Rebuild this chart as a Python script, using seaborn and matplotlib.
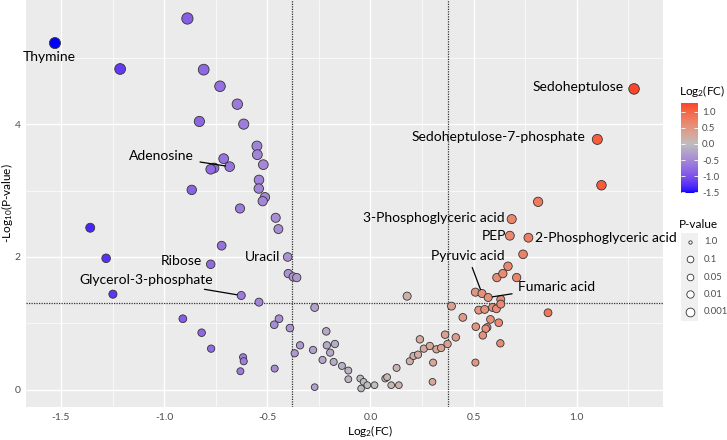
import numpy as np
import pandas as pd
import matplotlib
matplotlib.use("Agg")
import matplotlib.pyplot as plt
import seaborn as sns
from matplotlib.colors import ListedColormap, Normalize, to_rgb

# ---------------- data ----------------
log2fc = [-0.887, -1.529, -1.213, -0.808, -0.729, -0.645, -0.829, -0.614, -0.550, -0.548,
          -0.519, -0.711, -0.682, -0.758, -0.774, -0.540, -0.541, -0.866, -0.511, -0.522,
          -0.632, -0.459, -0.446, -1.358, -0.721, -1.281, -0.774, -0.401, -0.398, -0.374,
          -0.357, -0.626, -1.248, -0.540, -0.270, -0.909, -0.443, -0.466, -0.390, -0.818,
          -0.214, -0.341, -0.211, -0.172, -0.772, -0.278, -0.195, -0.367, -0.617, -0.614,
          -0.232, -0.178, -0.630, -0.464, -0.270, -0.138, -0.107, -0.107, -0.049, -0.033,
          -0.045, -0.015, 0.020, 0.072, 0.081, 0.101, 0.138, 0.127, 0.178, 0.191,
          0.209, 0.231, 0.240, 0.259, 0.288, 0.304, 0.301, 0.320, 0.343, 0.362,
          0.374, 0.393, 0.414, 0.448, 0.509, 0.541, 0.571, 0.525, 0.554, 0.592,
          0.611, 0.632, 0.632, 0.582, 0.511, 0.566, 0.559, 0.622, 0.545, 0.630,
          0.509, 0.613, 0.642, 0.667, 0.709, 0.740, 1.278, 1.100, 1.120, 0.813,
          0.685, 0.676, 0.766, 0.861]
neg_log10_p = [5.59, 5.22, 4.83, 4.82, 4.57, 4.30, 4.04, 4.00, 3.67, 3.54,
               3.39, 3.48, 3.36, 3.34, 3.32, 3.16, 3.03, 3.01, 2.90, 2.84,
               2.73, 2.59, 2.42, 2.44, 2.17, 1.98, 1.89, 2.00, 1.75, 1.70,
               1.69, 1.42, 1.44, 1.32, 1.24, 1.07, 1.07, 0.98, 0.93, 0.86,
               0.88, 0.67, 0.67, 0.69, 0.62, 0.60, 0.56, 0.55, 0.49, 0.43,
               0.45, 0.42, 0.28, 0.32, 0.04, 0.36, 0.29, 0.16, 0.17, 0.12,
               0.02, 0.07, 0.07, 0.17, 0.19, 0.07, 0.07, 0.33, 1.41, 0.43,
               0.51, 0.53, 0.76, 0.62, 0.66, 0.41, 0.12, 0.61, 0.63, 0.83,
               0.69, 1.26, 0.79, 1.09, 1.47, 1.45, 1.39, 1.20, 1.21, 1.24,
               1.22, 1.36, 1.29, 1.06, 0.95, 0.94, 0.92, 1.01, 0.82, 0.70,
               0.41, 1.69, 1.75, 1.86, 1.69, 2.04, 4.53, 3.77, 3.08, 2.83,
               2.57, 2.32, 2.29, 1.16]

label_names = ["Thymine", "Sedoheptulose", "Sedoheptulose-7-phosphate", "3-Phosphoglyceric acid",
               "PEP", "2-Phosphoglyceric acid", "Pyruvic acid", "Fumaric acid", "Adenosine",
               "Ribose", "Uracil", "Glycerol-3-phosphate"]
label_point = [1, 106, 107, 110, 111, 112, 85, 86, 12, 26, 27, 31]
label_text_x = [-1.559, 1.228, 1.044, 0.651, 0.656, 0.797, 0.472, 0.716, -0.855, -0.815, -0.438, -0.761]
label_text_y = [5.01, 4.56, 3.80, 2.58, 2.31, 2.29, 2.02, 1.55, 3.52, 1.94, 2.00, 1.66]
label_ha = ["center", "right", "right", "right", "right", "left", "center", "left", "right", "right", "right", "right"]
label_segment = [False, False, False, False, False, False, True, True, True, False, False, True]

fc_cut = np.log2(1.3)
p_cut = -np.log10(0.05)

pvalue_breaks = ["1.0", "0.1", "0.05", "0.01", "0.001"]
pvalue_key_px = [2.4, 4.8, 4.8, 5.3, 6.3]
cbar_ticks = [1.0, 0.5, 0.0, -0.5, -1.0, -1.5]

df = pd.DataFrame({"log2fc": log2fc, "nlp": neg_log10_p})

# ------------- colour scale: ggplot-like gradient2 (Lab interpolation) -------------
def _srgb_to_lin(c):
    c = np.asarray(c)
    return np.where(c <= 0.04045, c / 12.92, ((c + 0.055) / 1.055) ** 2.4)

def _lin_to_srgb(c):
    c = np.clip(c, 0, 1)
    return np.where(c <= 0.0031308, 12.92 * c, 1.055 * c ** (1 / 2.4) - 0.055)

M = np.array([[0.4124, 0.3576, 0.1805], [0.2126, 0.7152, 0.0722], [0.0193, 0.1192, 0.9505]])
WHITE = np.array([0.95047, 1.0, 1.08883])

def _f(t):
    return np.where(t > (6 / 29) ** 3, np.cbrt(t), t / (3 * (6 / 29) ** 2) + 4 / 29)

def _finv(t):
    return np.where(t > 6 / 29, t ** 3, 3 * (6 / 29) ** 2 * (t - 4 / 29))

def to_lab(col):
    xyz = M @ _srgb_to_lin(to_rgb(col)) / WHITE
    fx, fy, fz = _f(xyz)
    return np.array([116 * fy - 16, 500 * (fx - fy), 200 * (fy - fz)])

def from_lab(lab):
    L, a, b = lab
    fy = (L + 16) / 116
    xyz = np.array([_finv(fy + a / 500), _finv(fy), _finv(fy - b / 200)]) * WHITE
    return _lin_to_srgb(np.linalg.solve(M, xyz))

lab_lo, lab_mid, lab_hi = to_lab("#0000FF"), to_lab("#BEBEBE"), to_lab("#FF0000")
cols = []
for t in np.linspace(0, 1, 256):
    if t < 0.5:
        s = t / 0.5
        cols.append(from_lab(lab_lo + (lab_mid - lab_lo) * s))
    else:
        s = (t - 0.5) / 0.5
        cols.append(from_lab(lab_mid + (lab_hi - lab_mid) * s))
cmap = ListedColormap(np.clip(np.array(cols), 0, 1))
mabs = np.max(np.abs(df["log2fc"]))
norm = Normalize(-mabs, mabs)

# ---------------- figure ----------------
sns.set_theme(style="darkgrid")
plt.rcParams["font.family"] = ["Lato", "DejaVu Sans"]
plt.rcParams["mathtext.fontset"] = "custom"
plt.rcParams["mathtext.rm"] = "Lato"
plt.rcParams["mathtext.it"] = "Lato"

fig = plt.figure(figsize=(7.27, 4.40), dpi=100)
ax = fig.add_axes([26 / 727, 33 / 440, 637 / 727, 407 / 440])
ax.set_facecolor("#EBEBEB")

xr = df["log2fc"].max() - df["log2fc"].min()
yr = df["nlp"].max() - df["nlp"].min()
ax.set_xlim(df["log2fc"].min() - 0.05 * xr, df["log2fc"].max() + 0.05 * xr)
ax.set_ylim(df["nlp"].min() - 0.05 * yr, df["nlp"].max() + 0.05 * yr)

ax.set_xticks([-1.5, -1.0, -0.5, 0.0, 0.5, 1.0])
ax.set_xticks([-1.25, -0.75, -0.25, 0.25, 0.75, 1.25], minor=True)
ax.set_yticks([0, 2, 4])
ax.set_yticks([1, 3, 5], minor=True)
ax.set_xticklabels(["-1.5", "-1.0", "-0.5", "0.0", "0.5", "1.0"])
ax.grid(which="major", color="white", linewidth=1.0)
ax.grid(which="minor", color="white", linewidth=0.5)
ax.set_axisbelow(True)
for sp in ax.spines.values():
    sp.set_visible(False)
ax.tick_params(which="major", length=2.5, width=0.8, color="#333333", labelsize=7.5,
               labelcolor="#4D4D4D", pad=1.5)
ax.tick_params(which="minor", length=0)

ax.axvline(-fc_cut, color="#333333", linestyle=(0, (1, 1)), linewidth=0.9, zorder=2)
ax.axvline(fc_cut, color="#333333", linestyle=(0, (1, 1)), linewidth=0.9, zorder=2)
ax.axhline(p_cut, color="#333333", linestyle=(0, (1, 1)), linewidth=0.9, zorder=2)

sns.scatterplot(data=df, x="log2fc", y="nlp", hue="log2fc", palette=cmap, hue_norm=norm,
                size="nlp", sizes=(23, 66), size_norm=(0, 5.6), edgecolor="#333333",
                linewidth=0.6, legend=False, ax=ax, zorder=3)

ax.set_xlabel("Log$_2$(FC)", fontsize=8.5, color="black", va="center")
ax.set_ylabel("-Log$_{10}$(P-value)", fontsize=8.5, color="black", va="center")
ax.xaxis.set_label_coords((370.5 - 26) / 637, -24 / 407)
ax.yaxis.set_label_coords(-19 / 637, 0.5)

for name, idx, tx, ty, ha, seg in zip(label_names, label_point, label_text_x, label_text_y,
                                      label_ha, label_segment):
    px, py = df["log2fc"][idx], df["nlp"][idx]
    if seg:
        ax.annotate(name, xy=(px, py), xytext=(tx, ty), ha=ha, va="center", fontsize=10,
                    color="black", zorder=5,
                    arrowprops=dict(arrowstyle="-", color="black", lw=0.9, shrinkA=2, shrinkB=3))
    else:
        ax.text(tx, ty, name, ha=ha, va="center", fontsize=10, color="black", zorder=5)

# ---------------- colourbar legend ----------------
cax = fig.add_axes([681 / 727, 1 - 193 / 440, 17 / 727, 90 / 440])
grad = np.linspace(df["log2fc"].min(), df["log2fc"].max(), 200).reshape(-1, 1)
cax.imshow(grad, extent=[0, 1, df["log2fc"].min(), df["log2fc"].max()], aspect="auto",
           origin="lower", cmap=cmap, norm=norm)
cax.set_xlim(0, 1)
cax.set_ylim(df["log2fc"].min(), df["log2fc"].max())
cax.set_xticks([])
cax.set_yticks(cbar_ticks)
cax.set_yticklabels(["1.0", "0.5", "0.0", "-0.5", "-1.0", "-1.5"])
cax.yaxis.tick_right()
cax.tick_params(axis="y", which="both", left=True, right=True, direction="in", length=3,
                width=0.6, color="white", labelsize=7, labelcolor="#4D4D4D", pad=3)
for sp in cax.spines.values():
    sp.set_visible(False)
cax.grid(False)

# ---------------- legend texts & size key ----------------
lax = fig.add_axes([0, 0, 1, 1], facecolor="none")
lax.set_xlim(0, 727)
lax.set_ylim(440, 0)
lax.axis("off")
lax.text(679, 91, "Log$_2$(FC)", ha="left", va="center", fontsize=8.5, color="black")
lax.text(679, 224, "P-value", ha="left", va="center", fontsize=8.5, color="black")
lax.add_patch(plt.Rectangle((681, 233), 17, 88, facecolor="#F0F0F0", edgecolor="none"))
for i, (lab, ms) in enumerate(zip(pvalue_breaks, pvalue_key_px)):
    yy = 242 + i * 17.5
    lax.plot([689.5], [yy], marker="o", markersize=ms, markerfacecolor="white",
             markeredgecolor="#333333", markeredgewidth=0.6, linestyle="none")
    lax.text(704, yy, lab, ha="left", va="center", fontsize=6.8, color="#4D4D4D")

fig.savefig("out.png", dpi=100)
